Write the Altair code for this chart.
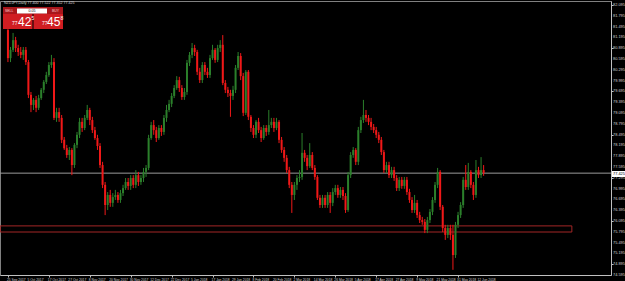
import altair as alt
import pandas as pd
import numpy as np

# ---- data (NZDJPY, Daily) ----
date_labels = ["25 Sep 2017", "5 Oct 2017", "17 Oct 2017", "27 Oct 2017", "8 Nov 2017",
               "20 Nov 2017", "30 Nov 2017", "12 Dec 2017", "22 Dec 2017", "5 Jan 2018",
               "17 Jan 2018", "29 Jan 2018", "8 Feb 2018", "20 Feb 2018", "2 Mar 2018",
               "14 Mar 2018", "26 Mar 2018", "5 Apr 2018", "17 Apr 2018", "27 Apr 2018",
               "9 May 2018", "21 May 2018", "31 May 2018", "12 Jun 2018"]
date_ticks = [0, 8, 16, 24, 32, 40, 48, 56, 64, 72, 80, 88, 96, 104, 112, 120,
              128, 136, 144, 152, 160, 168, 176, 184]

price_labels = [82.095, 81.795, 81.495, 81.195, 80.895, 80.595, 80.295, 79.995,
                79.695, 79.395, 79.095, 78.795, 78.495, 78.195, 77.895, 77.595,
                77.295, 76.995, 76.695, 76.395, 76.095, 75.795, 75.495, 75.195,
                74.895, 74.595]

first_open = 81.40
closes = [80.62, 80.85, 81.12, 80.90, 80.79, 80.71, 80.85, 80.51, 79.60, 79.32,
          79.46, 79.24, 79.51, 79.74, 79.96, 80.15, 80.43, 80.51, 78.96, 79.12,
          78.96, 78.35, 78.12, 77.93, 78.07, 77.65, 78.21, 78.49, 78.85, 78.68,
          78.96, 79.18, 78.90, 78.62, 78.40, 78.18, 77.65, 77.10, 76.54, 76.82,
          76.60, 76.76, 76.82, 76.68, 76.87, 77.01, 77.18, 77.07, 77.29, 77.10,
          77.37, 77.18, 77.29, 77.46, 77.57, 78.40, 78.76, 78.62, 78.40, 78.68,
          78.57, 78.96, 79.18, 79.35, 79.57, 79.79, 80.01, 79.79, 79.54, 79.68,
          80.49, 80.71, 80.90, 80.79, 80.24, 80.01, 80.43, 80.24, 80.15, 80.62,
          80.85, 80.57, 80.90, 80.99, 79.93, 79.74, 79.65, 79.57, 79.74, 80.35,
          80.68, 80.12, 79.10, 80.24, 78.99, 78.68, 78.49, 78.85, 78.62, 78.40,
          78.68, 78.57, 78.76, 78.85, 78.68, 78.85, 78.35, 78.07, 77.85, 77.51,
          77.10, 76.82, 77.10, 77.29, 77.32, 77.99, 77.85, 77.62, 77.93, 77.57,
          77.32, 76.74, 76.54, 76.74, 76.54, 76.82, 76.60, 76.90, 77.01, 76.82,
          76.96, 76.79, 76.40, 77.37, 77.93, 78.07, 77.74, 78.62, 78.90, 79.04,
          78.96, 78.85, 78.71, 78.62, 78.49, 78.35, 78.01, 77.51, 77.65, 77.37,
          77.51, 77.29, 77.01, 77.24, 77.07, 77.24, 76.90, 76.68, 76.40, 76.60,
          76.26, 76.12, 76.07, 75.85, 76.12, 76.35, 76.68, 77.10, 77.46, 76.49,
          75.90, 75.71, 75.90, 75.71, 75.15, 75.99, 76.26, 76.54, 77.24, 77.04,
          77.46, 77.10, 76.82, 77.51, 77.37, 77.51, 77.43]
highs = [81.49, 80.93, 81.32, 81.21, 80.99, 80.93, 80.93, 80.93, 80.57, 79.68,
         79.51, 79.57, 79.60, 79.79, 80.01, 80.24, 80.51, 80.71, 80.62, 79.24,
         79.24, 79.04, 78.43, 78.21, 78.15, 78.12, 78.26, 78.57, 78.96, 78.96,
         79.04, 79.32, 79.24, 78.99, 78.71, 78.49, 78.26, 77.74, 77.18, 76.90,
         76.96, 76.87, 76.96, 76.90, 76.96, 77.10, 77.29, 77.29, 77.37, 77.37,
         77.51, 77.46, 77.37, 77.57, 77.65, 78.49, 78.85, 78.90, 78.71, 78.76,
         78.76, 79.04, 79.32, 79.46, 79.65, 79.87, 80.12, 80.10, 79.87, 79.79,
         80.57, 80.79, 81.04, 80.99, 80.85, 80.35, 80.51, 80.51, 80.35, 80.71,
         80.99, 80.90, 80.99, 81.12, 81.26, 80.01, 79.82, 79.74, 79.85, 80.43,
         80.79, 80.76, 80.21, 80.29, 80.29, 79.04, 78.76, 78.90, 78.96, 78.71,
         78.76, 78.76, 79.18, 78.96, 78.96, 78.96, 78.90, 78.43, 78.15, 77.93,
         77.60, 77.18, 77.18, 77.37, 77.51, 78.54, 78.07, 77.93, 78.26, 78.01,
         77.65, 77.37, 76.82, 76.82, 76.82, 76.90, 76.90, 77.01, 77.10, 77.10,
         77.04, 77.04, 76.87, 77.46, 78.01, 78.15, 78.12, 78.71, 78.99, 79.46,
         79.18, 79.04, 78.96, 78.79, 78.71, 78.57, 78.43, 78.07, 77.74, 77.74,
         77.60, 77.60, 77.37, 77.32, 77.32, 77.32, 77.32, 76.99, 76.76, 76.82,
         76.68, 76.35, 76.21, 76.15, 76.21, 76.43, 76.76, 77.18, 77.57, 77.51,
         76.54, 75.99, 75.99, 75.99, 75.99, 76.07, 76.35, 76.62, 77.32, 77.65,
         77.71, 77.51, 77.18, 77.79, 77.60, 77.87, 77.65]
lows = [80.51, 80.51, 80.79, 80.79, 80.68, 80.62, 80.57, 80.43, 79.51, 79.12,
        79.18, 79.12, 79.18, 79.46, 79.65, 79.90, 80.10, 80.35, 78.90, 78.85,
        78.85, 78.26, 78.07, 77.85, 77.79, 77.37, 77.57, 78.12, 78.40, 78.57,
        78.62, 78.90, 78.76, 78.54, 78.35, 78.07, 77.57, 77.01, 76.26, 76.40,
        76.49, 76.49, 76.68, 76.60, 76.60, 76.79, 76.96, 76.96, 76.96, 77.01,
        77.01, 77.07, 77.10, 77.18, 77.32, 77.51, 78.35, 78.49, 78.29, 78.35,
        78.46, 78.49, 78.85, 79.12, 79.26, 79.51, 79.74, 79.68, 79.46, 79.46,
        79.60, 80.40, 80.62, 80.68, 80.15, 79.93, 79.93, 80.15, 80.07, 80.07,
        80.57, 80.49, 80.51, 80.79, 79.87, 79.65, 79.54, 78.99, 79.46, 79.65,
        80.29, 80.01, 79.01, 79.04, 78.90, 78.57, 78.40, 78.40, 78.54, 78.29,
        78.35, 78.46, 78.49, 78.68, 78.57, 78.62, 78.26, 77.99, 77.74, 77.43,
        77.01, 76.32, 76.68, 76.96, 77.18, 77.24, 77.74, 77.51, 77.57, 77.51,
        77.24, 76.68, 76.46, 76.46, 76.46, 76.46, 76.32, 76.51, 76.82, 76.74,
        76.74, 76.68, 76.32, 76.35, 77.29, 77.85, 77.65, 77.65, 78.54, 78.82,
        78.85, 78.76, 78.62, 78.54, 78.40, 78.26, 77.93, 77.43, 77.43, 77.29,
        77.29, 77.21, 76.93, 76.93, 76.99, 76.99, 76.82, 76.60, 76.32, 76.32,
        76.18, 76.04, 75.99, 75.76, 75.76, 76.04, 76.26, 76.60, 77.01, 76.40,
        75.79, 75.57, 75.62, 75.57, 74.74, 75.07, 75.90, 76.18, 76.46, 76.96,
        76.96, 77.01, 76.68, 76.74, 77.29, 77.29, 77.35]

current_price = 77.425
box_left = [-3]
box_right = [220.5]
box_top = [75.96]
box_bottom = [75.79]

# ---- build tables ----
opens = [first_open] + closes[:-1]
df = pd.DataFrame({"i": list(range(len(closes))), "open": opens, "close": closes,
                   "high": highs, "low": lows})
df["dir"] = np.where(df["close"] >= df["open"], "up", "down")

xscale = alt.Scale(domain=[-1.154, 233.85], nice=False, zero=False)
yscale = alt.Scale(domain=[74.596, 82.207], nice=False, zero=False)
cscale = alt.Scale(domain=["up", "down"], range=["#2b7f2b", "#f01818"])

xaxis = alt.Axis(values=date_ticks, labels=False, title=None, grid=False,
                 tickSize=2, tickColor="#c0c0c0", domainColor="#c0c0c0")
yaxis = alt.Axis(values=price_labels, labels=False, orient="right", title=None, grid=False,
                 tickSize=2, tickColor="#c0c0c0", domainColor="#c0c0c0")

base = alt.Chart(df)

wicks = base.mark_rule(strokeWidth=1).encode(
    x=alt.X("i:Q", scale=xscale, axis=xaxis),
    y=alt.Y("low:Q", scale=yscale, axis=yaxis),
    y2="high:Q",
    color=alt.Color("dir:N", scale=cscale, legend=None),
)
bodies = base.mark_bar(size=2).encode(
    x=alt.X("i:Q", scale=xscale),
    y=alt.Y("open:Q", scale=yscale),
    y2="close:Q",
    color=alt.Color("dir:N", scale=cscale, legend=None),
)

cur = alt.Chart(pd.DataFrame({"p": [current_price]})).mark_rule(
    color="#9a9a9a", strokeWidth=1).encode(y=alt.Y("p:Q", scale=yscale))

box = alt.Chart(pd.DataFrame({"x1": box_left, "x2": box_right, "y1": box_top, "y2": box_bottom})).mark_rect(
    fill="#000000", fillOpacity=0, stroke="#a32626", strokeWidth=1, clip=True).encode(
    x=alt.X("x1:Q", scale=xscale), x2="x2:Q",
    y=alt.Y("y1:Q", scale=yscale), y2="y2:Q")

# axis labels as text marks so that every one is drawn
ylab_df = pd.DataFrame({"p": price_labels, "t": [f"{v:.3f}" for v in price_labels]})
ylabels = alt.Chart(ylab_df).mark_text(
    align="left", baseline="middle", fontSize=3.9, color="#d0d0d0",
    font="Liberation Sans", clip=False).encode(
    x=alt.value(613), y=alt.Y("p:Q", scale=yscale), text="t:N")

xlab_df = pd.DataFrame({"i": date_ticks, "t": date_labels})
xlabels = alt.Chart(xlab_df).mark_text(
    align="left", baseline="middle", fontSize=3.3, color="#d0d0d0",
    font="Liberation Sans", dx=-1).encode(
    x=alt.X("i:Q", scale=xscale), y=alt.value(278.5), text="t:N")

dummy = alt.Chart(pd.DataFrame({"a": [0]}))

def rect(x1, x2, y1, y2, color):
    return dummy.mark_rect(color=color).encode(
        x=alt.value(x1), x2=alt.value(x2), y=alt.value(y1), y2=alt.value(y2))

def txt(x, y, s, size, color="#ffffff", weight="normal", align="left"):
    return dummy.mark_text(fontSize=size, color=color, fontWeight=weight, align=align,
                           baseline="middle", font="Liberation Sans").encode(
        x=alt.value(x), y=alt.value(y), text=alt.value(s))

panel = [
    txt(4, 2, "NZDJPY,Daily  77.400 77.522 77.352 77.425", 3.6, "#d8d8d8"),
    rect(3, 63, 6, 13, "#a8161b"),
    rect(3, 32.5, 13, 28, "#d01d22"),
    rect(33.5, 63, 13, 28, "#d01d22"),
    rect(17, 47, 7.5, 12.5, "#ffffff"),
    txt(32, 10, "0.05", 3.6, "#000000", align="center"),
    txt(5, 10, "SELL", 3.4, "#ffd0d0"),
    txt(52, 10, "BUY", 3.4, "#ffd0d0"),
    txt(12, 22, "77", 5, "#ffffff"),
    txt(18, 21, "42", 12, "#ffffff"),
    txt(31.5, 16.5, "5", 5, "#ffffff"),
    txt(42, 22, "77", 5, "#ffffff"),
    txt(47, 21, "45", 12, "#ffffff"),
    txt(60.5, 16.5, "8", 5, "#ffffff"),
]

cur_label = [
    rect(612, 625, 170, 176, "#ffffff"),
    txt(613, 173, "77.425", 3.9, "#000000"),
]

chart = alt.layer(box, cur, wicks, bodies, ylabels, xlabels, *panel, *cur_label).properties(
    width=611, height=274,
    padding={"left": 0, "top": 1, "right": 14, "bottom": 6},
    autosize=alt.AutoSizeParams(type="none"),
    background="#000000",
).configure_view(stroke="#808080", strokeWidth=1)

chart.save("out.html", embed_options={"renderer": "svg", "actions": False})
